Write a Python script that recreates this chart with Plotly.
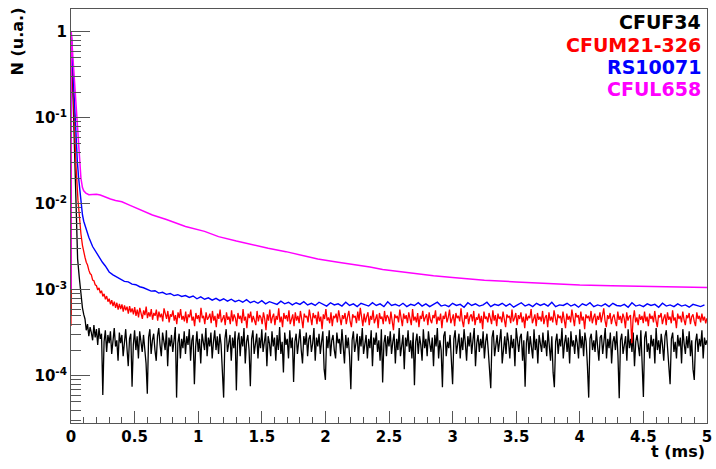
import numpy as np
import plotly.graph_objects as go

# ---------------- data ----------------
# CFUF34 (black): fast decay then noisy floor (tail values in units of 1e-4)
black_t_head = [0.0, 0.002, 0.01, 0.02, 0.03, 0.04, 0.052, 0.065, 0.078, 0.09, 0.10]
black_n_head = [5e-4, 1.0, 0.37, 0.107, 0.037, 0.0107, 0.0023, 0.0014, 0.00081, 0.00062, 0.00052]
black_tail_e4 = [
    4.6, 3.4, 4.0, 2.9, 3.7, 3.2, 2.6, 3.9, 2.8, 3.5, 2.3, 3.6, 2.7, 3.1, 0.6, 2.5, 3.4, 1.9, 3.0, 2.4,
    3.3, 1.8, 2.9, 3.6, 2.2, 2.6, 1.5, 3.2, 2.4, 3.0, 1.7, 2.8, 3.5, 2.1, 1.3, 2.7, 3.1, 0.75, 2.3, 3.4,
    2.0, 2.9, 1.6, 3.3, 2.5, 1.9, 3.0, 2.2, 1.4, 0.62, 2.8, 3.5, 1.8, 2.6, 3.1, 2.0, 1.5, 2.9, 3.6, 2.3,
    1.7, 3.2, 2.5, 2.0, 3.4, 1.3, 2.8, 2.2, 3.0, 1.9, 2.6, 3.7, 0.56, 2.4, 3.1, 1.6, 2.7, 2.1, 3.3, 1.8,
    2.9, 2.3, 3.5, 1.5, 2.6, 3.0, 0.8, 2.2, 3.3, 1.9, 2.7, 1.4, 3.1, 2.4, 2.0, 3.6, 1.7, 2.8, 2.2, 3.2,
    1.6, 2.5, 3.4, 2.0, 2.9, 1.8, 3.1, 2.3, 1.2, 0.56, 2.7, 3.5, 1.9, 2.4, 3.0, 1.5, 2.8, 2.1, 3.3, 0.68,
    2.6, 3.2, 1.7, 2.9, 2.2, 3.6, 1.4, 2.5, 3.0, 2.0, 0.76, 2.7, 3.4, 1.8, 2.3, 3.1, 1.6, 2.8, 2.1, 3.5,
    1.9, 2.6, 3.2, 1.3, 2.9, 2.4, 1.7, 3.3, 2.2, 2.8, 1.5, 3.0, 2.0, 3.7, 1.8, 2.5, 1.1, 3.2, 2.3, 2.7,
    1.6, 3.4, 2.1, 2.8, 0.85, 2.5, 3.1, 1.8, 2.6, 3.5, 2.0, 1.4, 2.9, 2.3, 3.2, 1.7, 2.7, 3.0, 1.9, 2.4,
    3.6, 1.5, 2.8, 2.2, 3.1, 1.8, 2.5, 3.3, 1.2, 0.9, 2.9, 2.1, 3.4, 1.7, 2.6, 3.0, 2.0, 1.6, 3.2, 2.4,
    2.7, 1.8, 3.5, 2.3, 1.4, 3.0, 2.1, 2.8, 1.7, 0.7, 2.6, 3.3, 1.9, 2.4, 3.1, 1.5, 2.9, 2.2, 3.6, 1.8,
    2.5, 3.0, 1.6, 2.7, 2.1, 3.4, 1.3, 2.8, 2.3, 3.2, 1.9, 2.6, 1.5, 3.5, 0.84, 2.4, 3.0, 1.7, 2.9, 2.2,
    3.3, 1.8, 2.5, 3.1, 1.4, 2.7, 2.0, 3.6, 1.7, 2.4, 3.0, 1.2, 2.8, 2.2, 3.4, 1.9, 2.6, 1.6, 3.2, 0.78,
    2.5, 3.1, 1.8, 2.9, 2.3, 1.5, 3.5, 2.1, 2.7, 1.7, 3.3, 2.4, 1.9, 2.8, 1.3, 3.0, 2.2, 3.6, 1.6, 2.6,
    2.0, 0.74, 2.9, 3.3, 1.7, 2.5, 2.1, 3.0, 1.4, 0.8, 2.7, 3.4, 1.8, 2.3, 3.1, 1.6, 2.8, 2.0, 3.5, 2.4,
    1.5, 2.9, 2.2, 3.2, 1.8, 2.6, 3.6, 1.3, 2.4, 3.0, 1.9, 2.7, 2.1, 3.3, 1.6, 2.5, 3.1, 2.0, 1.2, 0.72,
    2.8, 3.4, 1.7, 2.3, 3.0, 1.9, 2.6, 3.5, 1.4, 2.2, 2.9, 1.8, 3.2, 2.5, 1.6, 3.0, 2.1, 2.7, 1.3, 3.6,
    2.3, 1.9, 2.8, 3.1, 1.5, 2.6, 0.75, 2.4, 3.3, 1.8, 2.9, 2.2, 1.6, 3.5, 2.0, 2.7, 1.4, 3.0, 2.4, 1.9,
    3.2, 2.1, 2.6, 1.7, 3.4, 2.3, 1.5, 2.9, 1.1, 0.74, 2.5, 3.1, 1.8, 2.7, 2.2, 3.6, 1.6, 2.4, 3.0, 1.9,
    2.8, 1.4, 3.3, 2.2, 2.6, 1.8, 3.0, 2.4, 1.6, 3.5, 2.1, 2.9, 1.7, 3.2, 2.5, 1.3, 0.56, 2.7, 3.1, 2.0,
    2.6, 1.9, 3.4, 2.2, 1.5, 2.8, 3.0, 1.8, 2.4, 3.6, 1.6, 2.7, 2.1, 3.2, 1.4, 2.5, 2.9, 2.0, 3.3, 1.7,
    0.55, 2.6, 3.1, 1.8, 2.3, 2.9, 1.5, 3.5, 2.1, 2.7, 1.9, 3.2, 1.3, 2.5, 3.0, 2.2, 1.7, 3.4, 1.2, 0.57,
    2.8, 3.3, 1.9, 2.4, 1.6, 3.0, 2.2, 2.7, 1.4, 3.6, 2.0, 2.6, 1.8, 3.1, 2.3, 1.5, 2.9, 3.4, 2.1, 1.1,
    0.8, 2.7, 3.2, 1.9, 2.5, 1.6, 3.0, 2.2, 2.8, 1.4, 3.5, 2.4, 1.8, 2.9, 2.1, 3.3, 1.7, 2.6, 1.2, 0.9,
    2.5, 3.1, 1.9, 2.7, 2.2, 3.4, 1.6, 2.8, 2.3, 2.6,
]
black_tail_t0, black_tail_t1 = 0.11, 5.0

# CFUM21-326 (red)
red_t_head = [0.0, 0.002, 0.01, 0.02, 0.03, 0.039, 0.055, 0.07, 0.078, 0.09]
red_n_head = [3.8e-4, 1.0, 0.46, 0.17, 0.066, 0.028, 0.011, 0.0058, 0.0045, 0.0033]
red_tail_e4 = [
    27, 24, 21, 19.5, 17, 15.5, 15, 13, 12.8, 11.5, 11.2, 10, 10.6, 9.2, 9.8, 8.4, 9.0, 7.8, 8.5, 7.3,
    7.9, 6.8, 7.6, 6.5, 7.3, 6.2, 7.1, 5.9, 6.9, 6.0, 6.8, 5.6, 6.6, 5.8, 6.4, 5.3, 6.5, 5.5, 6.1, 5.2,
    6.3, 5.0, 5.9, 4.8, 6.2, 5.3, 4.6, 5.8, 5.1, 6.4, 4.7, 5.5, 4.9, 6.0, 4.5, 5.4, 5.0, 5.9, 4.4, 5.6,
    4.8, 5.3, 4.3, 6.1, 5.0, 4.6, 5.7, 4.2, 5.2, 4.9, 5.8, 4.4, 5.1, 4.0, 5.5, 4.7, 6.0, 4.5, 5.0, 4.3,
    5.6, 4.1, 5.2, 4.8, 5.9, 4.4, 4.9, 3.8, 5.4, 4.6, 5.1, 4.2, 6.2, 4.7, 5.0, 4.0, 5.5, 4.5, 4.8, 5.3,
    4.1, 5.7, 4.4, 5.0, 3.7, 5.3, 4.6, 5.9, 4.2, 4.8, 5.1, 3.9, 5.5, 4.5, 4.9, 4.0, 5.8, 4.3, 5.2, 4.7,
    3.8, 5.4, 4.6, 5.0, 4.1, 6.0, 4.4, 4.9, 3.6, 5.3, 4.7, 5.6, 4.2, 5.0, 4.5, 3.9, 5.7, 4.3, 5.1, 4.8,
    4.0, 5.5, 4.6, 3.4, 5.2, 4.4, 5.9, 4.1, 4.8, 5.3, 3.9, 5.0, 4.5, 6.1, 4.2, 4.9, 3.7, 5.4, 4.6, 5.1,
    4.3, 5.8, 4.0, 4.7, 5.2, 3.8, 5.5, 4.4, 5.0, 4.1, 5.7, 4.6, 3.6, 5.3, 4.8, 5.0, 4.2, 5.9, 4.5, 3.9,
    5.4, 4.7, 5.1, 4.0, 5.6, 4.3, 4.9, 3.5, 5.2, 4.6, 6.0, 4.4, 4.8, 4.1, 5.5, 3.8, 5.0, 4.7, 5.3, 4.2,
    5.8, 4.5, 3.9, 5.1, 4.6, 5.4, 4.0, 4.9, 5.7, 4.3, 3.7, 5.2, 4.8, 5.0, 4.1, 5.6, 4.4, 6.2, 4.6, 3.8,
    5.3, 4.2, 4.9, 5.5, 3.9, 5.0, 4.5, 5.8, 4.1, 4.7, 5.2, 3.6, 5.4, 4.6, 4.9, 4.0, 5.7, 4.3, 5.1, 4.8,
    4.0, 5.6, 4.4, 3.4, 5.2, 4.7, 5.0, 4.2, 5.9, 4.5, 3.8, 5.3, 4.6, 5.1, 4.1, 5.5, 4.8, 3.9, 6.0, 4.4,
    4.9, 4.2, 5.4, 3.7, 5.0, 4.6, 5.7, 4.3, 4.8, 5.2, 3.9, 5.5, 4.5, 4.1, 5.1, 4.7, 5.8, 4.0, 4.9, 4.4,
    5.3, 3.6, 5.0, 4.6, 5.6, 4.2, 4.8, 5.9, 4.1, 4.5, 5.2, 3.8, 5.4, 4.7, 5.0, 4.3, 6.1, 4.4, 3.7, 5.1,
    4.6, 5.5, 4.0, 4.9, 5.2, 4.3, 5.7, 3.9, 4.8, 4.5, 5.3, 4.1, 5.0, 3.5, 5.6, 4.6, 4.9, 4.2, 5.4, 4.7,
    4.0, 5.8, 4.4, 5.1, 3.8, 5.3, 4.6, 4.9, 4.2, 5.6, 4.5, 3.7, 5.2, 4.8, 5.0, 4.1, 5.9, 4.3, 4.7, 5.4,
    3.9, 5.1, 4.6, 5.5, 4.2, 4.9, 3.6, 5.3, 4.4, 5.0, 4.7, 6.0, 4.1, 4.8, 5.2, 3.8, 5.4, 4.5, 4.9, 4.3,
    5.7, 4.0, 4.8, 5.1, 3.7, 5.5, 4.4, 4.9, 4.2, 5.8, 4.6, 3.9, 5.2, 4.7, 5.0, 4.1, 5.6, 4.3, 3.6, 5.3,
    4.5, 5.0, 4.2, 5.9, 4.6, 3.8, 5.4, 4.8, 5.1, 4.0, 5.6, 4.4, 4.9, 3.5, 5.2, 4.7, 5.0, 4.3, 5.7, 4.1,
    4.8, 5.3, 3.9, 5.0, 4.5, 5.5, 4.2, 4.9, 6.1, 4.4, 3.7, 5.1, 4.6, 5.4, 4.0, 4.8, 5.2, 4.3, 3.8, 5.6,
    4.5, 5.0, 4.1, 5.3, 4.7, 3.6, 5.5, 4.4, 4.9, 5.1, 2.4, 4.6, 5.8, 4.2, 4.8, 3.9, 5.2, 4.5, 5.0, 4.1,
    5.6, 4.3, 4.9, 3.8, 5.3, 4.6, 5.0, 4.2, 5.7, 4.4, 3.7, 5.1, 4.8, 5.4, 4.0, 4.7, 5.2, 3.9, 5.5, 4.5,
    4.9, 4.1, 5.8, 4.4, 4.8, 3.6, 5.3, 4.6, 5.0, 4.2, 5.6, 4.5, 3.9, 5.1, 4.7, 5.4, 4.0, 4.9, 5.2, 4.3,
    3.8, 5.5, 4.6, 5.0, 4.2, 5.3, 4.4, 4.9, 4.1, 4.7,
]
red_tail_t0, red_tail_t1 = 0.10, 5.0

# RS10071 (blue)
blue_t_head = [0.0, 0.002, 0.01, 0.02, 0.03, 0.039, 0.05, 0.06, 0.07, 0.078, 0.09, 0.10,
               0.117, 0.14, 0.17, 0.20, 0.247, 0.27]
blue_n_head = [1.0, 1.0, 0.52, 0.23, 0.10, 0.049, 0.031, 0.020, 0.0135, 0.0098, 0.0075, 0.0063,
               0.0052, 0.0041, 0.0032, 0.0027, 0.0021, 0.0019]
blue_tail_e4 = [
    16.2, 15.0, 14.1, 13.5, 12.6, 12.4, 11.7, 11.5, 10.9, 10.6,
    10.1, 9.7, 9.8, 9.2, 9.4, 8.9, 9.1, 8.6, 8.8, 8.4,
    8.6, 8.2, 8.5, 7.9, 8.3, 7.8, 8.1, 7.6, 8.0, 7.5,
    7.9, 7.4, 7.8, 7.3, 7.6, 7.2, 7.7, 7.1, 7.4, 7.0,
    7.5, 6.9, 7.3, 7.1, 6.8, 7.4, 6.9, 7.2, 6.7, 7.1,
    6.8, 7.3, 6.7, 7.0, 6.6, 7.2, 6.8, 6.5, 7.1, 6.7,
    6.9, 6.5, 7.2, 6.6, 6.9, 6.4, 7.0, 6.7, 6.5, 7.1,
    6.6, 6.9, 6.4, 7.3, 6.6, 6.8, 6.5, 7.0, 6.4, 6.8,
    6.6, 7.1, 6.5, 6.9, 6.4, 6.8, 7.2, 6.5, 6.7, 6.4,
    7.0, 6.6, 6.8, 6.3, 7.1, 6.6, 6.9, 6.5, 6.7, 7.2,
    6.4, 6.8, 6.6, 7.0, 6.5, 6.9, 6.3, 6.7, 7.1, 6.5,
    6.8, 6.4, 7.0, 6.6, 6.9, 6.5, 7.2, 6.4, 6.7, 6.6,
    7.0, 6.5, 6.8, 6.3, 6.9, 6.6, 7.1, 6.4, 6.7, 6.5,
    6.9, 6.4, 7.0, 6.6, 6.5, 6.8, 6.3, 7.1, 6.5, 6.7,
    6.4, 6.9, 6.6, 6.8, 6.3, 7.0, 6.5, 6.7, 6.4, 6.9,
    6.5, 6.7, 6.3, 6.8, 6.6, 6.4, 6.7,
]
blue_tail_t0, blue_tail_t1 = 0.30, 4.98

# CFUL658 (magenta): smooth curve with shoulder
mag_t = [0.0, 0.002, 0.01, 0.02, 0.03, 0.039, 0.05, 0.06, 0.07, 0.078, 0.09, 0.10, 0.117,
         0.14, 0.17, 0.20, 0.23, 0.27, 0.31, 0.35, 0.40, 0.46, 0.53, 0.64, 0.75, 0.90,
         1.05, 1.16, 1.30, 1.42, 1.55, 1.69, 1.82, 1.94, 2.10, 2.20, 2.35, 2.45, 2.60,
         2.72, 2.85, 3.00, 3.25, 3.50, 3.75, 4.00, 4.25, 4.50, 4.75, 5.00]
mag_n = [1.0e-3, 1.0, 0.66, 0.39, 0.23, 0.141, 0.081, 0.049, 0.030, 0.020, 0.0155, 0.0142, 0.0134,
         0.0128, 0.0129, 0.0130, 0.0127, 0.0120, 0.0114, 0.0110, 0.0106, 0.0097, 0.0087, 0.00745,
         0.0066, 0.00548, 0.0048, 0.00417, 0.0037, 0.00334, 0.00305, 0.00279, 0.00252, 0.00229,
         0.00210, 0.00201, 0.00185, 0.00173, 0.00162, 0.00153, 0.00146, 0.00140, 0.00130,
         0.00124, 0.00119, 0.00114, 0.00112, 0.00110, 0.00108, 0.00107]

series_names = ["CFUF34", "CFUM21-326", "RS10071", "CFUL658"]
series_colors = ["#000000", "#ff0000", "#0000ff", "#ff00ff"]
series_widths = [1.3, 1.3, 1.4, 1.5]

x_ticks = [0, 0.5, 1, 1.5, 2, 2.5, 3, 3.5, 4, 4.5, 5]
y_tickvals = [1e-4, 1e-3, 1e-2, 1e-1, 1]
y_ticktext = ["10<sup>-4</sup>", "10<sup>-3</sup>", "10<sup>-2</sup>", "10<sup>-1</sup>", "1"]


def build(t_head, n_head, tail_e4, t0, t1):
    tt = np.linspace(t0, t1, len(tail_e4))
    return list(t_head) + list(tt), list(n_head) + [v * 1e-4 for v in tail_e4]


bx, by = build(black_t_head, black_n_head, black_tail_e4, black_tail_t0, black_tail_t1)
rx, ry = build(red_t_head, red_n_head, red_tail_e4, red_tail_t0, red_tail_t1)
ux, uy = build(blue_t_head, blue_n_head, blue_tail_e4, blue_tail_t0, blue_tail_t1)

FONT = "DejaVu Sans"
fig = go.Figure()
for (xx, yy), name, col, w in zip([(bx, by), (rx, ry), (ux, uy), (mag_t, mag_n)],
                                  series_names, series_colors, series_widths):
    fig.add_trace(go.Scatter(x=xx, y=yy, mode="lines", name=name,
                             line=dict(color=col, width=w), hoverinfo="skip"))

# legend as right-aligned coloured text (no symbols, no box)
H_PLOT = 414.0
for k, (name, col) in enumerate(zip(series_names, series_colors)):
    ypix = 22 + 22.5 * k
    fig.add_annotation(text=name, xref="paper", yref="paper", x=1, xshift=-4,
                       y=1 - (ypix - 9) / H_PLOT, xanchor="right", yanchor="middle",
                       showarrow=False,
                       font=dict(family=FONT, size=19, color=col, weight="bold"))

fig.add_annotation(text="N (u.a.)", xref="paper", yref="paper", x=-0.0842, y=1 - (41 - 9) / H_PLOT,
                   xanchor="center", yanchor="middle", textangle=-90, showarrow=False,
                   font=dict(family=FONT, size=16, color="black", weight="bold"))
fig.add_annotation(text="t (ms)", xref="paper", yref="paper", x=1, y=-(451 - 423) / H_PLOT,
                   xanchor="right", yanchor="middle", showarrow=False,
                   font=dict(family=FONT, size=16, color="black", weight="bold"))

minor_y = [m * 10.0 ** e for e in range(-5, 1) for m in range(2, 10)]

fig.update_layout(
    width=716, height=469,
    margin=dict(l=71, r=4, t=9, b=46),
    paper_bgcolor="white", plot_bgcolor="white",
    showlegend=False,
    xaxis=dict(range=[0, 5], tickmode="array", tickvals=x_ticks,
               ticktext=[f"{v:g}" for v in x_ticks], ticklabeloverflow="allow",
               ticks="inside", ticklen=12, tickcolor="#555555", tickwidth=1,
               minor=dict(dtick=0.1, ticks="inside", ticklen=6, tickcolor="#555555", tickwidth=1,
                          showgrid=False),
               showline=True, linecolor="#555555", linewidth=1, mirror=True,
               showgrid=False, zeroline=False,
               tickfont=dict(family=FONT, size=15, color="black", weight="bold")),
    yaxis=dict(type="log", range=[-4.547, 0.267], tickmode="array",
               tickvals=y_tickvals, ticktext=y_ticktext,
               ticks="inside", ticklen=19, tickcolor="#555555", tickwidth=1,
               minor=dict(tickmode="array", tickvals=minor_y, ticks="inside", ticklen=10,
                          tickcolor="#555555", tickwidth=1, showgrid=False),
               showline=True, linecolor="#555555", linewidth=1, mirror=True,
               showgrid=False, zeroline=False,
               tickfont=dict(family=FONT, size=15, color="black", weight="bold")),
)

fig.write_html("out.html", config={"displayModeBar": False},
               post_script="document.body.style.margin='0';document.body.style.overflow='hidden';")
